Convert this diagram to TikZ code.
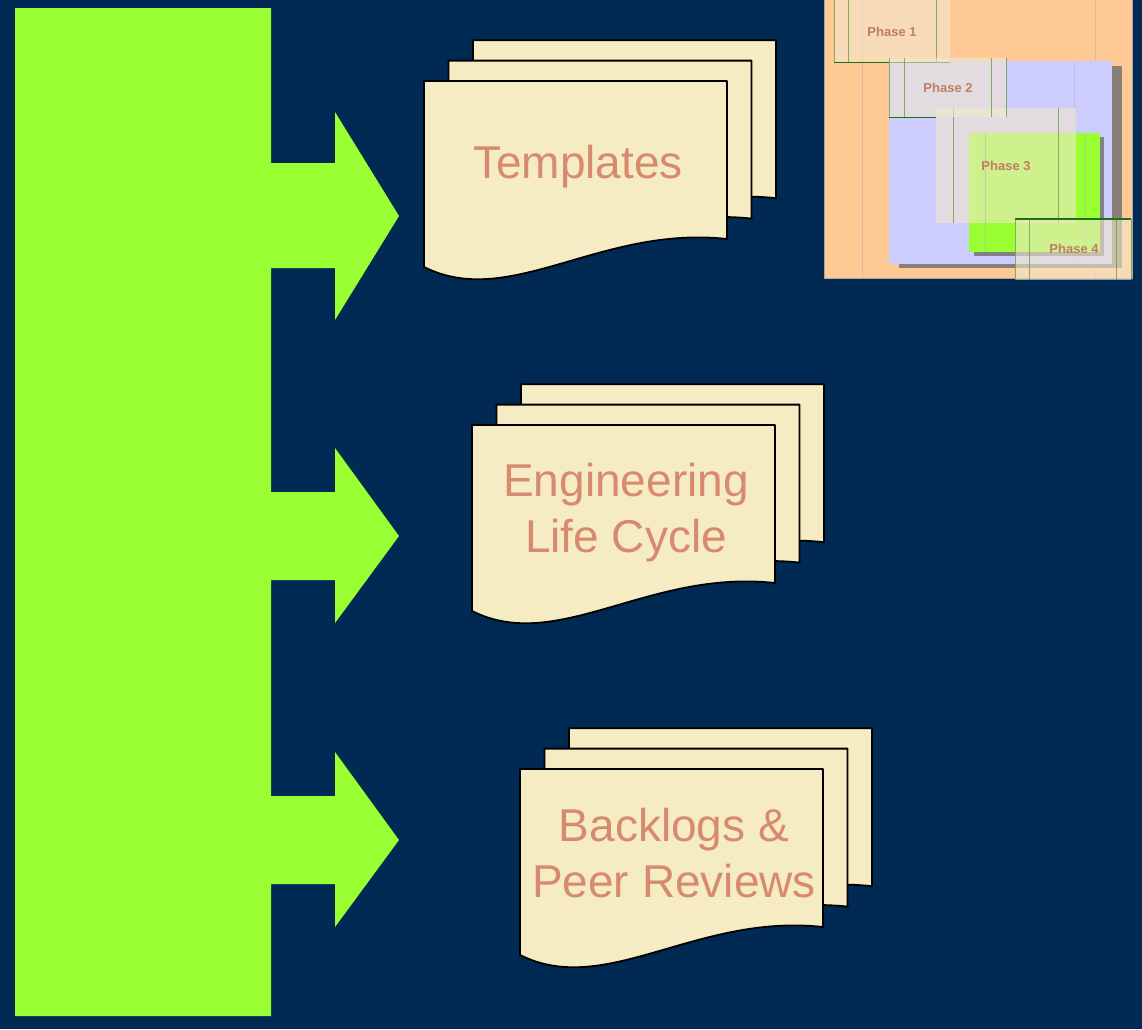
\documentclass[tikz,border=0pt]{standalone}
\usepackage{fontspec}
\setmainfont{Liberation Sans}
\definecolor{navy}{RGB}{0,42,84}
\definecolor{limegr}{RGB}{153,255,51}
\definecolor{paper}{RGB}{245,236,195}
\definecolor{salmon}{RGB}{216,138,110}
\definecolor{insetor}{RGB}{255,201,150}
\definecolor{lavend}{RGB}{204,204,255}
\definecolor{framec}{RGB}{242,232,204}
\definecolor{linegr}{RGB}{90,150,60}
\definecolor{darkgr}{RGB}{30,110,20}
\tikzset{
  page/.style={draw=black, line width=1.8pt, fill=paper, line join=round},
  doctext/.style={text=salmon, font=\fontsize{46}{56}\selectfont, align=center, inner sep=0pt},
  phaselbl/.style={text=salmon!90!black, font=\bfseries\fontsize{13}{15}\selectfont, inner sep=0pt},
  phasebox/.style={fill=framec, fill opacity=0.6, draw=none},
  vline/.style={draw=linegr, line width=0.8pt, opacity=0.7},
  faintline/.style={draw=gray!60, line width=0.8pt, opacity=0.5}
}
\newcommand\docstack[2]{%
  \begin{scope}[shift={(#1,#2)}]
    \foreach \s in {2,1,0}{
      \draw[page, shift={(24.5*\s,-20.4*\s)}]
        (424,81) -- (727,81) -- (727,239)
        .. controls (600,225) and (510,310) .. (424,267) -- cycle;
    }
  \end{scope}}
\begin{document}
\begin{tikzpicture}[x=1pt,y=-1pt]
\useasboundingbox[fill=navy] (0,0) rectangle (1142,1029);

% green bar with arrows
\fill[limegr] (15,8) -- (271,8) -- (271,163) -- (335,163) -- (335,112) -- (399,216)
  -- (335,320) -- (335,268) -- (271,268) -- (271,492) -- (335,492) -- (335,448)
  -- (399,536) -- (335,623) -- (335,580) -- (271,580) -- (271,796) -- (335,796)
  -- (335,752) -- (399,840) -- (335,927) -- (335,884) -- (271,884) -- (271,1016)
  -- (15,1016) -- cycle;

% document stacks
\docstack{0}{0}
\node[doctext] (t1) at (578,167) {Templates};
\docstack{48}{344}
\node[doctext] (t2) at (626,513) {Engineering\\Life Cycle};
\docstack{96}{688}
\node[doctext] (t3) at (674,853) {Backlogs \&\\Peer Reviews};

% inset
\begin{scope}
\clip (824,0) rectangle (1133,279);
\fill[insetor, draw=gray!70, line width=0.8pt] (824,-2) rectangle (1132.5,278);
\draw[faintline] (862.7,0) -- (862.7,278);
\draw[faintline] (1095,0) -- (1095,278);
% lavender block
\fill[gray!90!black, opacity=0.85] (899,66) rectangle (1121.5,268);
\fill[lavend] (889,61) rectangle (1112,264);
\draw[faintline] (1074,61) -- (1074,264);
% green block
\fill[gray!90!black, opacity=0.85] (974,137) rectangle (1104,256);
\fill[limegr] (969,132.7) rectangle (1100,251.7);
% phase 3 frame
\fill[phasebox] (935.7,107.7) rectangle (1075.7,223);
\draw[vline] (953,107.7) -- (953,223);
\draw[vline] (1058,107.7) -- (1058,223);
\draw[faintline] (985,132.7) -- (985,251.7);
\draw[faintline] (1085,132.7) -- (1085,251.7);
% phase 1
\fill[phasebox] (834,0) rectangle (950,62);
\draw[vline] (848,0) -- (848,62);
\draw[vline] (936.7,0) -- (936.7,62);
\draw[vline] (834,0) -- (834,62);
\draw[darkgr, line width=1pt] (834,62) -- (950,62);
% phase 2
\fill[phasebox] (889,58) rectangle (1006,117);
\draw[vline] (889,58) -- (889,117);
\draw[vline] (904,58) -- (904,117);
\draw[vline] (991,58) -- (991,117);
\draw[vline] (1006,58) -- (1006,117);
\draw[darkgr, line width=1pt] (889,117) -- (936,117);
% phase 4
\fill[phasebox] (1015,219) rectangle (1131,280);
\draw[darkgr, line width=1.2pt] (1015,219) -- (1131,219);
\draw[vline] (1015,219) -- (1015,280);
\draw[vline] (1029,219) -- (1029,280);
\draw[vline] (1116.7,219) -- (1116.7,280);
\draw[vline] (1131,219) -- (1131,280);
\end{scope}
\node[phaselbl] (p1) at (892,32) {Phase 1};
\node[phaselbl] (p2) at (948,88) {Phase 2};
\node[phaselbl] (p3) at (1006,166) {Phase 3};
\node[phaselbl] (p4) at (1074,249) {Phase 4};
\end{tikzpicture}
\end{document}
